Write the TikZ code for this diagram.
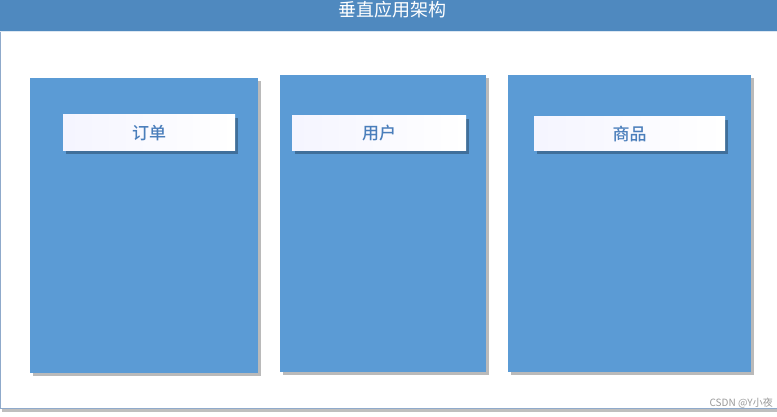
\documentclass[tikz,border=0pt]{standalone}
\usepackage{fontspec}
\newfontfamily\cjk{Noto Sans CJK SC}
\newfontfamily\cjkmed{Noto Sans CJK SC Medium}
\usetikzlibrary{shadows}
\definecolor{hdr}{HTML}{4F89BF}
\definecolor{colfill}{HTML}{5B9BD5}
\definecolor{lbltext}{HTML}{4A7EBB}
\definecolor{frame}{HTML}{8FAACB}
\tikzset{
  col/.style={draw=none, fill=colfill, drop shadow={shadow xshift=3pt, shadow yshift=-3pt, fill=black!45, opacity=0.6}},
  lbl/.style={draw=none, left color=blue!4!white, right color=white, drop shadow={shadow xshift=3pt, shadow yshift=-3pt, fill=hdr!60!black, opacity=0.6}, text=lbltext, font=\cjkmed\fontsize{17}{17}\selectfont, inner sep=0pt},
}
\begin{document}
\begin{tikzpicture}[x=1pt,y=-1pt]
\useasboundingbox (0,0) rectangle (777,417);
\fill[white] (0,0) rectangle (777,417);
% frame
\fill[black!25] (2,409) rectangle (777,412);
\draw[frame, line width=1.2pt] (0.6,31) -- (0.6,408.5) -- (777,408.5);
% header
\fill[hdr] (0,0) rectangle (777,31);
\draw[white!80!hdr, line width=0.8pt] (0,31.5) -- (777,31.5);
\node[text=white, font=\cjk\fontsize{18}{18}\selectfont, inner sep=0pt] (title) at (392,9.5) {垂直应用架构};
% columns
\path[col] (30,78) rectangle (258,373);
\path[col] (280,75) rectangle (486,372);
\path[col] (508,75) rectangle (751,372);
% labels
\node[lbl, minimum width=172pt, minimum height=36pt] (a) at (149,133) {订单};
\node[lbl, minimum width=174pt, minimum height=35pt] (b) at (379,133.5) {用户};
\node[lbl, minimum width=191pt, minimum height=34pt] (c) at (629.5,134) {商品};
% watermark
\node[text=black!40, font=\cjk\fontsize{10}{10}\selectfont, inner sep=0pt, anchor=east] (wm) at (773,403) {CSDN @Y小夜};
\end{tikzpicture}
\end{document}
